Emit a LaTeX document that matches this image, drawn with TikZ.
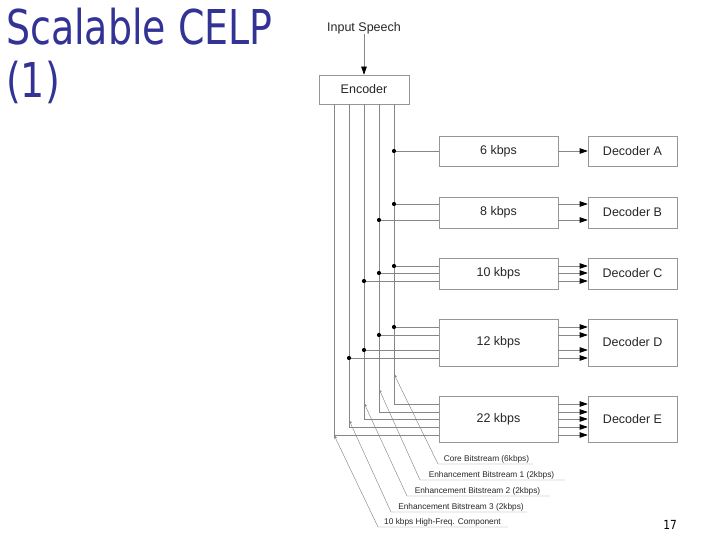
\documentclass[tikz,border=0pt]{standalone}
\usepackage{fontspec}
\setmainfont{Liberation Sans}
\newfontfamily\titlefont{DejaVu Sans}
\usetikzlibrary{arrows.meta}
\definecolor{titleblue}{RGB}{51,51,150}
\definecolor{linegray}{RGB}{135,135,135}
\definecolor{boxgray}{RGB}{150,150,150}
\begin{document}
\begin{tikzpicture}[x=1pt,y=-1pt,
  box/.style={draw=boxgray, line width=0.6pt, inner sep=0pt, font=\fontsize{12.5}{14}\selectfont, text=black!85},
  wire/.style={draw=linegray, line width=0.6pt},
  feed/.style={draw=linegray, line width=0.6pt, -{Triangle[color=black,length=8pt,width=5.5pt]}},
  leader/.style={draw=linegray, line width=0.45pt, {Stealth[length=4pt,width=3pt]}-},
  lbl/.style={font=\fontsize{8.3}{9}\selectfont, text=black!85, inner sep=0pt, anchor=base},
  dot/.style={fill=black}]
\useasboundingbox (0,0) rectangle (720,540);

% title and page number
\node[anchor=base west, inner sep=0pt, text=titleblue, font=\titlefont\fontsize{48}{52}\selectfont] (title1) at (6,45) {\scalebox{0.79}[1]{Scalable CELP}};
\node[anchor=base west, inner sep=0pt, text=titleblue, font=\titlefont\fontsize{48}{52}\selectfont] (title2) at (6,98) {\scalebox{0.79}[1]{(1)}};
\node[anchor=base east, inner sep=0pt, font=\titlefont\fontsize{12.5}{14}\selectfont] (page) at (677,529) {\scalebox{0.85}[1]{17}};

% input and encoder
\node[inner sep=0pt, font=\fontsize{12.5}{14}\selectfont, text=black!85] (in) at (364,28) {Input Speech};
\node[box, minimum width=90pt, minimum height=29pt] (enc) at (364,89.5) {Encoder};
\draw[feed] (in.south) -- (enc.north);

% bitrate boxes and decoders
\node[box, minimum width=119pt, minimum height=30pt] (r6)  at (498.5,151) {6 kbps};
\node[box, minimum width=89pt,  minimum height=30pt] (decA) at (632.5,151) {Decoder A};
\node[box, minimum width=119pt, minimum height=31pt] (r8)  at (498.5,212.5) {8 kbps};
\node[box, minimum width=89pt,  minimum height=31pt] (decB) at (632.5,212.5) {Decoder B};
\node[box, minimum width=119pt, minimum height=31pt] (r10) at (498.5,273.5) {10 kbps};
\node[box, minimum width=89pt,  minimum height=31pt] (decC) at (632.5,273.5) {Decoder C};
\node[box, minimum width=119pt, minimum height=47pt] (r12) at (498.5,342.5) {12 kbps};
\node[box, minimum width=89pt,  minimum height=47pt] (decD) at (632.5,342.5) {Decoder D};
\node[box, minimum width=119pt, minimum height=46pt] (r22) at (498.5,419) {22 kbps};
\node[box, minimum width=89pt,  minimum height=46pt] (decE) at (632.5,419) {Decoder E};

% bitstream lines leaving the encoder, bending into the 22 kbps box
\foreach \i/\x/\y in {0/394/404, 1/379/412, 2/364/419, 3/349/427, 4/334/435} {
  \coordinate (s\i) at (\x,104);
  \coordinate (e\i) at (\x,\y);
  \draw[wire] (s\i) -- (e\i) -- (e\i -| r22.west);
  \draw[feed] (e\i -| r22.east) -- (e\i -| decE.west);
}

% taps into the other boxes
\foreach \nm/\x/\y/\bx/\dc in {
  a0/394/151/r6/decA,
  b0/394/204/r8/decB, b1/379/220/r8/decB,
  c0/394/266/r10/decC, c1/379/273/r10/decC, c2/364/281/r10/decC,
  d0/394/327/r12/decD, d1/379/335/r12/decD, d2/364/350/r12/decD, d3/349/358/r12/decD} {
  \coordinate (\nm) at (\x,\y);
  \draw[wire] (\nm) -- (\nm -| \bx.west);
  \draw[feed] (\nm -| \bx.east) -- (\nm -| \dc.west);
  \fill[dot] (\nm) circle (2.1pt);
}

% leader labels
\coordinate (t0) at (394,374); \coordinate (u0) at (438,464); \coordinate (w0) at (533,464);
\coordinate (t1) at (379,389); \coordinate (u1) at (420,480); \coordinate (w1) at (565,480);
\coordinate (t2) at (364,403); \coordinate (u2) at (407,496); \coordinate (w2) at (550,496);
\coordinate (t3) at (349,420); \coordinate (u3) at (391,512); \coordinate (w3) at (527,512);
\coordinate (t4) at (334,435); \coordinate (u4) at (378,527); \coordinate (w4) at (508,527);
\foreach \i in {0,...,4} {
  \draw[leader] (t\i) -- (u\i) -- (w\i);
}
\node[lbl] (l0) at (486.5,461) {Core Bitstream (6kbps)};
\node[lbl] (l1) at (491.5,477) {Enhancement Bitstream 1 (2kbps)};
\node[lbl] (l2) at (477.5,493) {Enhancement Bitstream 2 (2kbps)};
\node[lbl] (l3) at (461,509) {Enhancement Bitstream 3 (2kbps)};
\node[lbl] (l4) at (442.5,524) {10 kbps High-Freq. Component};
\end{tikzpicture}
\end{document}
